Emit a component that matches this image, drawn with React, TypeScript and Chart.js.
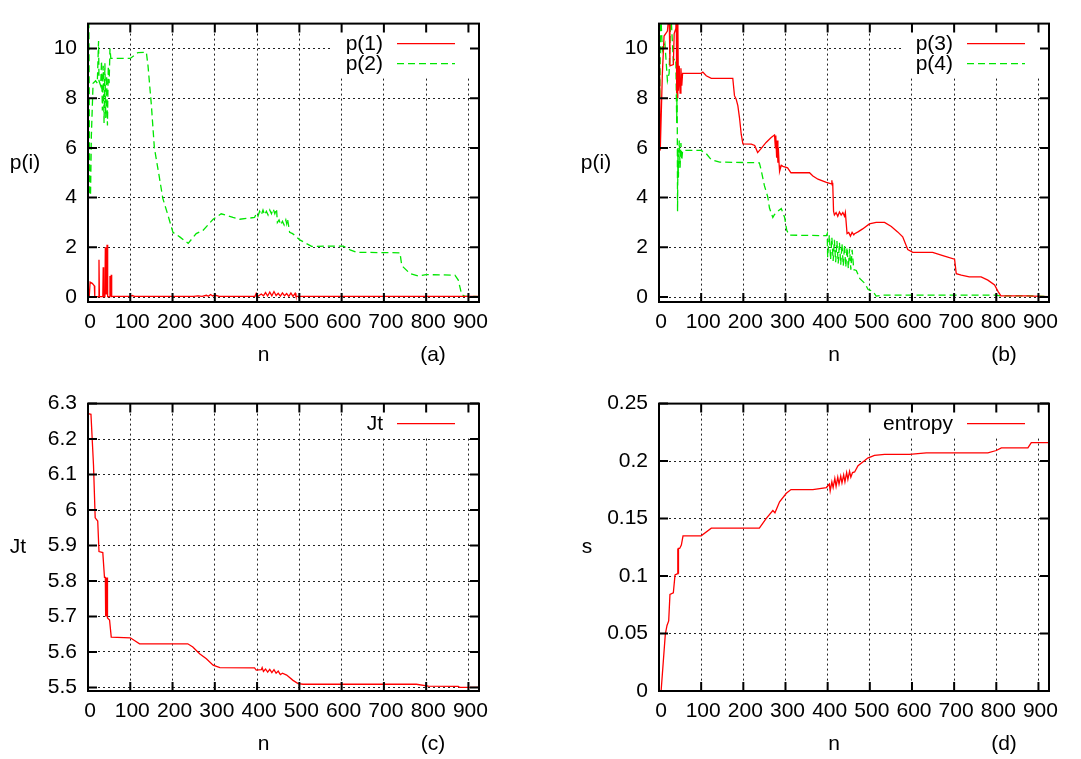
import React, { useEffect, useRef } from "react";
import { Chart, registerables } from "chart.js";

Chart.register(...registerables);

// ---------- tick labels ----------
const nTicks = [0, 100, 200, 300, 400, 500, 600, 700, 800, 900];
const pTicks = [0, 2, 4, 6, 8, 10];
const jtTicks = [5.5, 5.6, 5.7, 5.8, 5.9, 6, 6.1, 6.2, 6.3];
const sTicks = [0, 0.05, 0.1, 0.15, 0.2, 0.25];

// ---------- series (n, value) ----------
const p1: [number, number][] = [
  [0, 0.02], [3, 0.02], [5, 0.6], [10, 0.55], [15, 0.45], [16, 0.02], [25, 0.02], [26, 1.5], [27, 0.02],
  [35, 0.02], [36, 1.2], [37, 0.02], [40, 0.02], [41, 2.0], [42, 0.1], [43, 2.0], [44, 0.1], [45, 2.1],
  [46, 2.0], [47, 0.02], [51, 0.02], [52, 0.85], [53, 0.02], [55, 0.9], [56, 0.02], [60, 0.03],
  [100, 0.03], [105, 0.06], [110, 0.03], [250, 0.03], [260, 0.05], [270, 0.03], [280, 0.07], [285, 0.03],
  [290, 0.1], [295, 0.04], [300, 0.08], [310, 0.03], [395, 0.03], [398, 0.15], [402, 0.03], [410, 0.12],
  [415, 0.05], [420, 0.18], [425, 0.04], [430, 0.2], [435, 0.05], [440, 0.22], [445, 0.06], [450, 0.15],
  [455, 0.04], [460, 0.17], [465, 0.05], [470, 0.14], [475, 0.03], [480, 0.16], [485, 0.03], [490, 0.15],
  [492, 0.03], [925, 0.03],
];

const p2: [number, number][] = [
  [0, 11.5], [2, 11.5], [4, 4.1], [6, 4.1], [8, 6.5], [12, 8.6], [18, 8.7], [22, 8.6], [25, 10.3],
  [26, 8.7], [30, 8.5], [32, 9.5], [34, 7.5], [36, 9.3], [38, 7.0], [40, 9.4], [42, 7.2], [44, 8.9],
  [46, 6.9], [48, 9.3], [50, 8.6], [52, 10.0], [54, 9.6], [60, 9.6], [100, 9.6], [118, 9.83],
  [138, 9.85], [142, 9.3], [150, 7.7], [157, 6.0], [168, 4.9], [177, 3.97], [189, 3.3], [201, 2.6],
  [217, 2.42], [237, 2.16], [256, 2.55], [272, 2.68], [296, 3.13], [315, 3.35], [343, 3.2], [359, 3.13],
  [394, 3.2], [398, 3.35], [402, 3.25], [406, 3.45], [410, 3.3], [414, 3.5], [418, 3.3], [422, 3.45],
  [426, 3.3], [430, 3.5], [434, 3.35], [438, 3.55], [442, 3.35], [446, 3.55], [448, 3.0], [452, 3.1],
  [456, 2.9], [460, 3.05], [464, 2.9], [468, 3.1], [470, 2.95], [472, 3.15], [477, 2.6], [484, 2.55],
  [493, 2.42], [501, 2.3], [529, 2.04], [604, 2.05], [620, 1.9], [635, 1.8], [738, 1.78], [742, 1.3],
  [746, 1.2], [762, 0.94], [781, 0.85], [800, 0.9], [868, 0.88], [876, 0.68], [884, 0.1], [892, 0.03],
  [925, 0.02],
];

const p3: [number, number][] = [
  [0, 11.5], [3, 5.9], [8, 9.0], [12, 10.5], [20, 10.7], [24, 11.5], [26, 9.3], [34, 9.35], [36, 10.6],
  [40, 10.8], [41, 11.5], [42, 8.2], [43, 11.5], [44, 8.0], [45, 11.5], [46, 8.3], [48, 9.3], [50, 8.2],
  [52, 9.2], [54, 8.5], [56, 9.0], [100, 9.0], [104, 9.05], [112, 8.9], [124, 8.8], [175, 8.8],
  [179, 8.1], [183, 7.96], [187, 7.7], [191, 7.2], [195, 6.55], [199, 6.16], [219, 6.15], [227, 6.1],
  [234, 5.81], [242, 5.97], [254, 6.22], [266, 6.42], [274, 6.52], [276, 6.0], [277, 6.5], [279, 5.6],
  [280, 6.3], [282, 5.4], [283, 6.0], [285, 5.3], [286, 5.06], [290, 5.3], [294, 5.26], [305, 5.2],
  [313, 5.0], [357, 5.0], [365, 4.87], [377, 4.74], [397, 4.61], [409, 4.55], [410, 4.7], [411, 4.5],
  [412, 4.6], [414, 3.45], [416, 3.3], [420, 3.4], [424, 3.25], [428, 3.42], [432, 3.3], [436, 3.4],
  [440, 3.25], [442, 3.4], [446, 2.55], [450, 2.6], [454, 2.45], [458, 2.6], [462, 2.5], [464, 2.55],
  [472, 2.62], [483, 2.74], [499, 2.94], [515, 3.0], [535, 3.0], [551, 2.84], [566, 2.62], [578, 2.42],
  [590, 1.91], [602, 1.8], [649, 1.8], [677, 1.65], [701, 1.52], [705, 0.94], [717, 0.88], [736, 0.81],
  [764, 0.81], [780, 0.68], [796, 0.49], [804, 0.23], [811, 0.05], [871, 0.05], [925, 0.02],
];

const p4: [number, number][] = [
  [0, 11.5], [2, 8.0], [4, 11.5], [8, 9.9], [14, 10.2], [20, 8.7], [24, 9.0], [28, 11.5], [34, 9.5],
  [38, 9.6], [40, 9.5], [42, 7.0], [43, 9.0], [44, 3.45], [45, 6.0], [46, 4.8], [48, 6.3], [50, 5.2],
  [52, 6.2], [54, 5.5], [56, 5.9], [100, 5.9], [104, 5.85], [112, 5.77], [124, 5.52], [144, 5.43],
  [238, 5.4], [242, 5.13], [250, 4.48], [258, 4.03], [262, 3.58], [270, 3.2], [274, 3.32], [282, 3.45],
  [290, 3.56], [298, 3.2], [303, 2.68], [309, 2.49], [397, 2.47], [399, 2.55], [400, 1.6], [404, 2.5],
  [407, 1.5], [410, 2.4], [413, 1.45], [416, 2.3], [419, 1.4], [422, 2.25], [425, 1.35], [428, 2.2],
  [431, 1.3], [434, 2.15], [437, 1.25], [440, 2.1], [443, 1.2], [446, 2.0], [449, 1.15], [452, 1.95],
  [455, 1.1], [458, 1.9], [462, 1.1], [468, 1.07], [476, 0.75], [488, 0.55], [496, 0.3], [507, 0.23],
  [515, 0.04], [531, 0.08], [800, 0.08], [810, 0.05], [880, 0.05], [925, 0.02],
];

const jt: [number, number][] = [
  [0, 6.272], [7, 6.27], [13, 6.127], [17, 5.978], [23, 5.969], [26, 5.883], [35, 5.88], [39, 5.81],
  [41, 5.81], [41.4, 5.7], [41.8, 5.81], [42.2, 5.7], [42.6, 5.81], [43, 5.7], [43.4, 5.81], [43.8, 5.7],
  [44.2, 5.81], [44.6, 5.7], [45, 5.81], [45.4, 5.7], [45.8, 5.8], [46.2, 5.7], [47, 5.696],
  [51, 5.69], [55, 5.642], [100, 5.64], [122, 5.623], [236, 5.623], [248, 5.614], [264, 5.595],
  [280, 5.581], [296, 5.563], [312, 5.556], [394, 5.555], [398, 5.549], [410, 5.55], [412, 5.556],
  [415, 5.545], [420, 5.552], [425, 5.543], [430, 5.551], [435, 5.542], [440, 5.55], [445, 5.54],
  [450, 5.546], [455, 5.536], [460, 5.54], [470, 5.535], [485, 5.52], [497, 5.511], [509, 5.509],
  [777, 5.509], [805, 5.504], [876, 5.503], [880, 5.5], [925, 5.5],
];

const entropy: [number, number][] = [
  [5, 0], [15, 0.0495], [19, 0.057], [23, 0.061], [26, 0.084], [34, 0.0855], [38, 0.101], [44, 0.102],
  [44.4, 0.124], [44.8, 0.102], [45.2, 0.124], [45.6, 0.102], [46, 0.124], [46.4, 0.103], [46.8, 0.124],
  [49, 0.124], [53, 0.127], [57, 0.135], [100, 0.135], [124, 0.1416], [238, 0.1416], [254, 0.15],
  [270, 0.157], [275, 0.155], [286, 0.1646], [302, 0.172], [313, 0.1752], [365, 0.1752], [397, 0.177],
  [404, 0.18], [406, 0.174], [410, 0.182], [413, 0.177], [417, 0.185], [420, 0.178], [424, 0.186],
  [427, 0.18], [431, 0.187], [434, 0.181], [438, 0.188], [441, 0.182], [445, 0.19], [448, 0.184],
  [452, 0.191], [455, 0.186], [459, 0.19], [464, 0.1905], [472, 0.196], [488, 0.2006], [495, 0.2026],
  [511, 0.2049], [535, 0.2058], [594, 0.2058], [634, 0.2072], [780, 0.2072], [800, 0.2092], [812, 0.2115],
  [875, 0.2115], [883, 0.2161], [925, 0.2161],
];

// ---------- styling ----------
const FONT_FAMILY = '"Liberation Sans", Arial, Helvetica, sans-serif';
const FONT_SIZE = 21;
const FONT = `${FONT_SIZE}px ${FONT_FAMILY}`;
const RED = "#ff0000";
const GREEN = "#00e600";
const GREEN_DASH = [7, 4];
const X_MIN = 0;
const X_MAX = 925;
const XH = 60;

type Series = { label: string; data: [number, number][]; color: string; dash: number[] };
type PanelCfg = {
  left: number; top: number; width: number; height: number;
  area: { l: number; t: number; r: number; b: number };
  yMin: number; yMax: number; yTicks: number[];
  yTitle: string; yTitleDx: number; tag: string;
  series: Series[];
};

const panels: PanelCfg[] = [
  {
    left: 0, top: 0, width: 540, height: 380, area: { l: 88, t: 12, r: 479, b: 302 },
    yMin: -0.2, yMax: 11, yTicks: pTicks, yTitle: "p(i)", yTitleDx: -63, tag: "(a)",
    series: [
      { label: "p(1)", data: p1, color: RED, dash: [] },
      { label: "p(2)", data: p2, color: GREEN, dash: GREEN_DASH },
    ],
  },
  {
    left: 540, top: 0, width: 541, height: 380, area: { l: 119, t: 12, r: 509, b: 302 },
    yMin: -0.2, yMax: 11, yTicks: pTicks, yTitle: "p(i)", yTitleDx: -63, tag: "(b)",
    series: [
      { label: "p(3)", data: p3, color: RED, dash: [] },
      { label: "p(4)", data: p4, color: GREEN, dash: GREEN_DASH },
    ],
  },
  {
    left: 0, top: 380, width: 540, height: 379, area: { l: 88, t: 21, r: 479, b: 311 },
    yMin: 5.49, yMax: 6.3, yTicks: jtTicks, yTitle: "Jt", yTitleDx: -70, tag: "(c)",
    series: [{ label: "Jt", data: jt, color: RED, dash: [] }],
  },
  {
    left: 540, top: 380, width: 541, height: 379, area: { l: 119, t: 21, r: 509, b: 311 },
    yMin: 0, yMax: 0.25, yTicks: sTicks, yTitle: "s", yTitleDx: -72, tag: "(d)",
    series: [{ label: "entropy", data: entropy, color: RED, dash: [] }],
  },
];

const gnuPlugin = {
  id: "gnu",
  beforeDatasetsDraw(chart: any) {
    const { ctx, chartArea: a } = chart;
    const ds = chart.data.datasets;
    ctx.save();
    ctx.font = FONT;
    const textRight = a.right - 96;
    let maxW = 0;
    ds.forEach((d: any) => { maxW = Math.max(maxW, ctx.measureText(d.label).width); });
    const boxL = textRight - maxW - 14;
    const boxB = a.top + 12 + ds.length * 21;
    ctx.fillStyle = "#fff";
    ctx.fillRect(boxL, a.top, a.right - boxL, boxB - a.top);
    ds.forEach((d: any, i: number) => {
      const y = a.top + 21 + i * 20;
      ctx.fillStyle = "#000";
      ctx.textAlign = "right";
      ctx.textBaseline = "middle";
      ctx.fillText(d.label, textRight, y);
      ctx.strokeStyle = d.borderColor;
      ctx.lineWidth = d.borderWidth;
      ctx.setLineDash(d.borderDash || []);
      ctx.beginPath();
      ctx.moveTo(a.right - 82, y - 1);
      ctx.lineTo(a.right - 24, y - 1);
      ctx.stroke();
    });
    ctx.restore();
  },
  afterDraw(chart: any, _args: any, opts: any) {
    const { ctx, chartArea: a } = chart;
    const xs = chart.scales.x;
    const ys = chart.scales.y;
    ctx.save();
    ctx.strokeStyle = "#000";
    ctx.lineWidth = 2;
    ctx.setLineDash([]);
    ctx.strokeRect(a.left, a.top, a.right - a.left, a.bottom - a.top);
    const TL = 9;
    ctx.beginPath();
    xs.ticks.forEach((t: any) => {
      const px = xs.getPixelForValue(t.value);
      ctx.moveTo(px, a.bottom); ctx.lineTo(px, a.bottom - TL);
      ctx.moveTo(px, a.top); ctx.lineTo(px, a.top + TL);
    });
    ys.ticks.forEach((t: any) => {
      const py = ys.getPixelForValue(t.value);
      ctx.moveTo(a.left, py); ctx.lineTo(a.left + TL, py);
      ctx.moveTo(a.right, py); ctx.lineTo(a.right - TL, py);
    });
    ctx.stroke();
    ctx.fillStyle = "#000";
    ctx.font = FONT;
    ctx.textAlign = "center";
    ctx.textBaseline = "middle";
    ctx.fillText(opts.yTitle, a.left + opts.yTitleDx, (a.top + a.bottom) / 2);
    ctx.fillText("n", (a.left + a.right) / 2 - 20, a.bottom + 53);
    ctx.fillText(opts.tag, a.left + 345, a.bottom + 53);
    ctx.restore();
  },
};

function Panel({ cfg }: { cfg: PanelCfg }) {
  const ref = useRef<HTMLCanvasElement>(null);
  useEffect(() => {
    const a = cfg.area;
    const gridOpts = { color: "#222", lineWidth: 1, drawTicks: false };
    const chart = new Chart(ref.current as HTMLCanvasElement, {
      type: "line",
      data: {
        datasets: cfg.series.map((s) => ({
          label: s.label,
          data: s.data.map(([x, y]) => ({ x, y })),
          borderColor: s.color,
          borderWidth: 1.3,
          borderDash: s.dash,
          pointRadius: 0,
          tension: 0,
          fill: false,
        })),
      } as any,
      options: {
        responsive: false,
        animation: false,
        devicePixelRatio: 1,
        layout: { padding: { left: 0, top: a.t, right: cfg.width - a.r, bottom: cfg.height - a.b - XH } },
        plugins: {
          legend: { display: false },
          tooltip: { enabled: false },
          gnu: { yTitle: cfg.yTitle, yTitleDx: cfg.yTitleDx, tag: cfg.tag },
        } as any,
        scales: {
          x: {
            type: "linear",
            min: X_MIN,
            max: X_MAX,
            afterBuildTicks: (s: any) => { s.ticks = nTicks.map((v) => ({ value: v })); },
            afterFit: (s: any) => { s.height = XH; },
            grid: gridOpts,
            border: { display: false, dash: [2, 3] },
            ticks: {
              padding: 8, color: "#000", maxRotation: 0, autoSkip: false, labelOffset: 2,
              font: { family: FONT_FAMILY, size: FONT_SIZE },
              callback: (v: any) => String(v),
            },
          },
          y: {
            type: "linear",
            min: cfg.yMin,
            max: cfg.yMax,
            afterBuildTicks: (s: any) => { s.ticks = cfg.yTicks.map((v) => ({ value: v })); },
            afterFit: (s: any) => { s.width = a.l; },
            grid: gridOpts,
            border: { display: false, dash: [2, 3] },
            ticks: {
              padding: 11, color: "#000", autoSkip: false,
              font: { family: FONT_FAMILY, size: FONT_SIZE },
              callback: (v: any) => String(v),
            },
          },
        },
      } as any,
      plugins: [gnuPlugin as any],
    });
    return () => chart.destroy();
  }, [cfg]);
  return (
    <canvas
      ref={ref}
      width={cfg.width}
      height={cfg.height}
      style={{ position: "absolute", left: cfg.left, top: cfg.top, width: cfg.width, height: cfg.height }}
    />
  );
}

export default function App() {
  return (
    <div style={{ position: "absolute", left: 0, top: 0, width: 1081, height: 759, background: "#fff", overflow: "hidden" }}>
      {panels.map((p, i) => (
        <Panel key={i} cfg={p} />
      ))}
    </div>
  );
}
